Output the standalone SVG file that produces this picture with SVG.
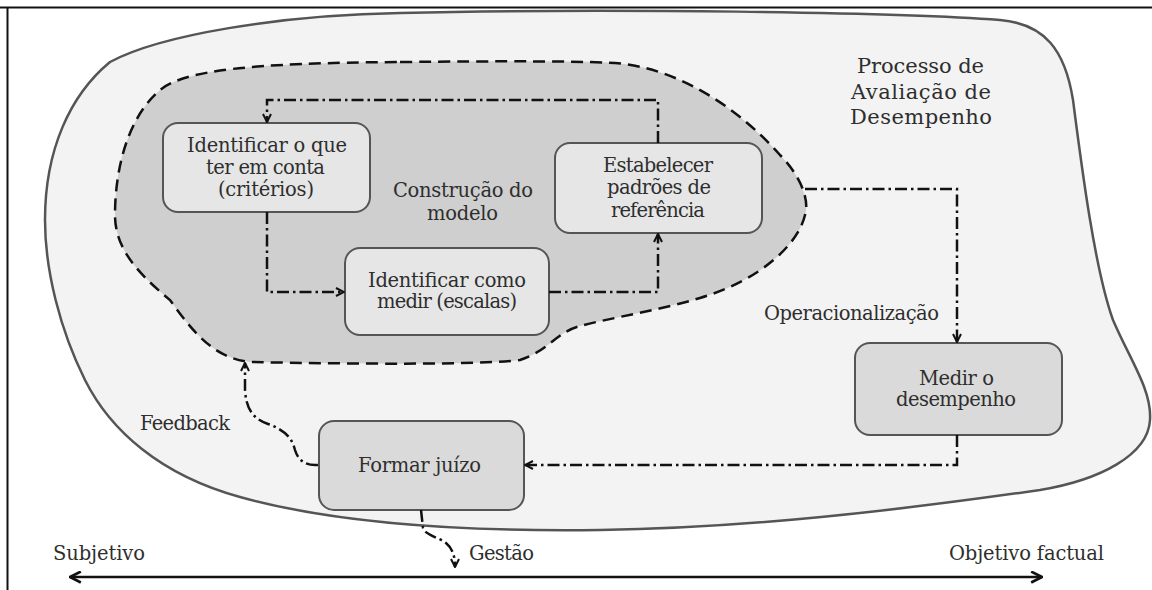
<svg xmlns="http://www.w3.org/2000/svg" width="1152" height="590" viewBox="0 0 1152 590">
<style>
.t{font-family:"DejaVu Serif","Liberation Serif",serif;font-size:19.5px;fill:#2e2e2e}
.title{font-size:21px}
.box{stroke:#555;stroke-width:2}
.inbox{fill:#e6e6e6}
.outbox{fill:#dadada}
.dd{fill:none;stroke:#111;stroke-width:2.5;stroke-dasharray:12 4 2.5 4}
</style>
<defs>
<marker id="arr" viewBox="0 0 10 10" refX="9" refY="5" markerWidth="10" markerHeight="10" markerUnits="userSpaceOnUse" orient="auto">
<path d="M1,1 L9,5 L1,9" fill="none" stroke="#111" stroke-width="2"/>
</marker>
<marker id="axarr" viewBox="0 0 12 12" refX="11" refY="6" markerWidth="13" markerHeight="13" markerUnits="userSpaceOnUse" orient="auto-start-reverse">
<path d="M1,1 L11,6 L1,11" fill="none" stroke="#111" stroke-width="2.5"/>
</marker>
</defs>
<rect x="0" y="0" width="1152" height="590" fill="#fff"/>
<g id="frame" stroke="#111" stroke-width="2" fill="none">
<line x1="0" y1="7.5" x2="1152" y2="7.5"/>
<line x1="7.5" y1="7" x2="7.5" y2="590"/>
</g>
<g id="processo">
<path d="M400,13 C600,8 900,12 1000,20 C1045,24 1065,50 1073,100 C1082,170 1095,270 1113,320 C1130,360 1152,390 1150,420 C1148,455 1100,480 1040,490 C900,510 750,528 600,530 C450,532 330,522 240,497 C160,475 110,430 85,380 C60,330 45,270 45,220 C45,150 70,95 110,62 C160,35 280,15 400,13 Z" fill="#f3f3f3" stroke="#555" stroke-width="2.5"/>
<text class="t title" x="857" y="73" textLength="127">Processo de</text>
<text class="t title" x="851" y="99" textLength="140">Avaliação de</text>
<text class="t title" x="850" y="124" textLength="142">Desempenho</text>
</g>
<g id="construcao">
<path d="M400,62 C500,61 580,61 615,63 C680,68 740,110 780,155 C800,175 810,200 805,215 C798,245 760,280 700,298 C660,310 610,318 580,326 C555,333 550,350 520,360 C480,365 350,364 250,362 C215,358 195,335 170,300 C140,275 115,250 115,215 C115,175 125,120 160,90 C185,70 250,63 400,62 Z" fill="#cfcfcf" stroke="#111" stroke-width="2.5" stroke-dasharray="12 7"/>
<text class="t" x="393" y="197" textLength="140">Construção do</text>
<text class="t" x="427" y="220" textLength="71">modelo</text>
</g>
<g id="criterios">
<rect class="box inbox" x="163" y="123" width="207" height="89" rx="15"/>
<text class="t" x="187" y="152" textLength="160">Identificar o que</text>
<text class="t" x="206" y="174" textLength="119">ter em conta</text>
<text class="t" x="218" y="196" textLength="96">(critérios)</text>
</g>
<g id="escalas">
<rect class="box inbox" x="345" y="248" width="204" height="87" rx="15"/>
<text class="t" x="368" y="287" textLength="158">Identificar como</text>
<text class="t" x="377" y="308" textLength="140">medir (escalas)</text>
</g>
<g id="padroes">
<rect class="box inbox" x="555" y="143" width="207" height="90" rx="15"/>
<text class="t" x="603" y="172" textLength="110">Estabelecer</text>
<text class="t" x="607" y="194" textLength="104">padrões de</text>
<text class="t" x="611" y="217" textLength="94">referência</text>
</g>
<g id="medir">
<rect class="box outbox" x="855" y="343" width="207" height="92" rx="15"/>
<text class="t" x="919" y="385" textLength="75">Medir o</text>
<text class="t" x="896" y="406" textLength="120">desempenho</text>
</g>
<g id="juizo">
<rect class="box outbox" x="319" y="421" width="205" height="89" rx="15"/>
<text class="t" x="358" y="472" textLength="123">Formar juízo</text>
</g>
<g id="labels">
<text class="t" x="764" y="320" textLength="175">Operacionalização</text>
<text class="t" x="140" y="430" textLength="90">Feedback</text>
<text class="t" x="469" y="560" textLength="65">Gestão</text>
<text class="t" x="53" y="560" textLength="92">Subjetivo</text>
<text class="t" x="949" y="560" textLength="155">Objetivo factual</text>
</g>
<g id="connectors">
<path class="dd" d="M658,143 L658,100 L267,100 L267,122" marker-end="url(#arr)"/>
<path class="dd" d="M267,212 L267,292 L344,292" marker-end="url(#arr)"/>
<path class="dd" d="M549,292 L658,292 L658,234" marker-end="url(#arr)"/>
<path class="dd" d="M805,189 L957,189 L957,342" marker-end="url(#arr)"/>
<path class="dd" d="M957,435 L957,465 L525,465" marker-end="url(#arr)"/>
<path class="dd" d="M318,465 C305,466 298,460 295,450 C292,438 285,430 268,424 C250,418 246,405 245,390 L245,363" marker-end="url(#arr)"/>
<path class="dd" d="M421,510 L423,528 C425,535 440,538 446,543 C452,548 455,555 455,567" marker-end="url(#arr)"/>
<line x1="70" y1="577" x2="1042" y2="577" stroke="#111" stroke-width="2.5" marker-start="url(#axarr)" marker-end="url(#axarr)"/>
</g>
</svg>
